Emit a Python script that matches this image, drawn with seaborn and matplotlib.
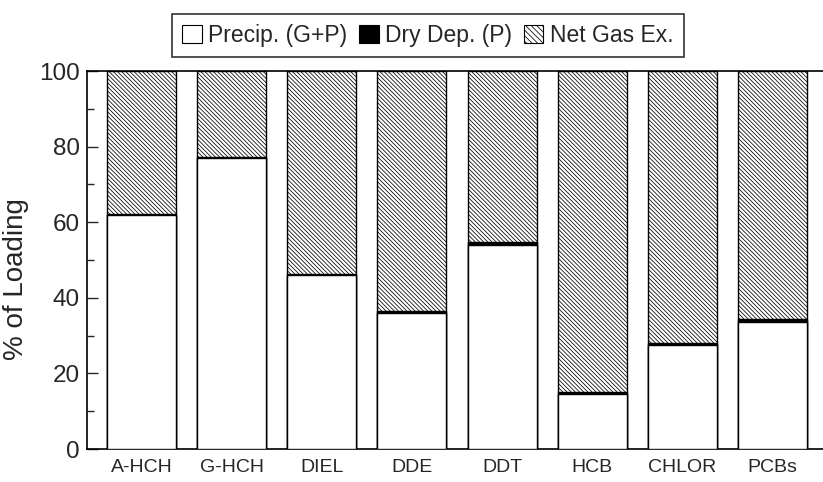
import matplotlib
matplotlib.use("Agg")
import matplotlib.pyplot as plt
from matplotlib.patches import Patch
from matplotlib.ticker import MultipleLocator
import seaborn as sns
import pandas as pd

compounds = ["A-HCH", "G-HCH", "DIEL", "DDE", "DDT", "HCB", "CHLOR", "PCBs"]
precip = [62.0, 77.0, 46.0, 36.0, 54.0, 14.6, 27.6, 33.6]
dry_dep = [0.2, 0.2, 0.4, 0.5, 0.8, 0.5, 0.4, 0.8]
net_gas = [37.8, 22.8, 53.6, 63.5, 45.2, 84.9, 72.0, 65.6]
legend_labels = ["Precip. (G+P)", "Dry Dep. (P)", "Net Gas Ex."]

df = pd.DataFrame({"compound": compounds, "precip": precip, "dry": dry_dep, "gas": net_gas})
df["precip_dry"] = df["precip"] + df["dry"]
df["total"] = df["precip_dry"] + df["gas"]

sns.set_style("ticks")
plt.rcParams["font.family"] = ["Liberation Sans", "DejaVu Sans"]
plt.rcParams["hatch.linewidth"] = 0.55
plt.rcParams["hatch.color"] = "black"

fig = plt.figure(figsize=(8.23, 4.82), dpi=100)
ax = fig.add_axes([87 / 823, 1 - 449 / 482, 1 - 87 / 823, (449 - 71) / 482])

w = 0.765
hatch = "\\" * 8
sns.barplot(data=df, x="compound", y="total", color="white", edgecolor="black",
            linewidth=1.0, width=w, saturation=1, hatch=hatch, ax=ax, zorder=2)
sns.barplot(data=df, x="compound", y="precip_dry", color="black", edgecolor="black",
            linewidth=1.0, width=w, saturation=1, ax=ax, zorder=3)
sns.barplot(data=df, x="compound", y="precip", color="white", edgecolor="black",
            linewidth=1.0, width=w, saturation=1, ax=ax, zorder=4)

ax.set_xlim(-0.605, 7.56)
ax.set_ylim(0, 100)
ax.yaxis.set_major_locator(MultipleLocator(20))
ax.yaxis.set_minor_locator(MultipleLocator(10))
ax.tick_params(axis="y", which="major", direction="in", length=8, width=1, labelsize=17.5, pad=5)
ax.tick_params(axis="y", which="minor", direction="in", length=5, width=1)
ax.tick_params(axis="x", length=0, labelsize=14, pad=7)
ax.set_xlabel("")
ax.set_ylabel("% of Loading", fontsize=20)
ax.yaxis.set_label_coords((29 - 87) / 736, 0.45)
for s in ["left", "bottom", "top"]:
    ax.spines[s].set_color("black")
    ax.spines[s].set_linewidth(1.2)
ax.spines["right"].set_visible(False)

handles = [
    Patch(facecolor="white", edgecolor="black", linewidth=0.8),
    Patch(facecolor="black", edgecolor="black", linewidth=0.8),
    Patch(facecolor="white", edgecolor="black", linewidth=0.8, hatch="\\" * 6),
]
leg = fig.legend(handles, legend_labels, loc="center", bbox_to_anchor=(428 / 823, 1 - 35.5 / 482),
                 ncol=3, frameon=True, fancybox=False, edgecolor="black", fontsize=16.5,
                 handlelength=0.85, handleheight=0.85, handletextpad=0.3, columnspacing=0.5,
                 borderpad=0.45, borderaxespad=0)
leg.get_frame().set_linewidth(1.2)

fig.savefig("out.png", dpi=100)
